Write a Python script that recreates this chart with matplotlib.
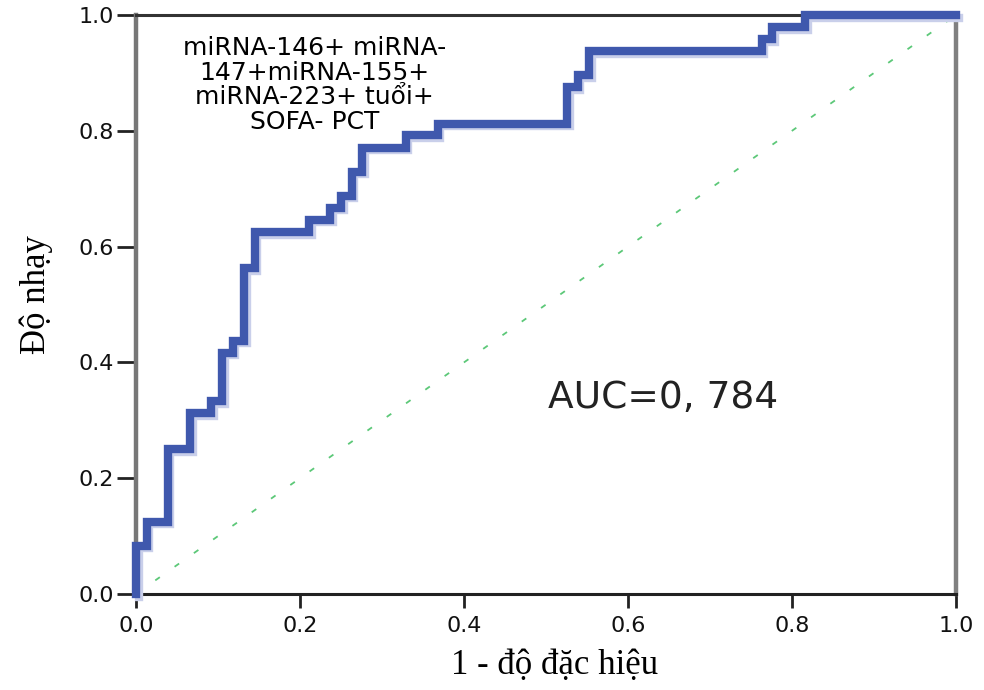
import matplotlib
matplotlib.use("Agg")
import matplotlib.pyplot as plt
import matplotlib.transforms as mtransforms

# ROC step points (1 - specificity, sensitivity), steps-pre
fpr = [0.0, 0.013, 0.039, 0.066, 0.092, 0.105, 0.118, 0.132, 0.145, 0.211,
       0.237, 0.250, 0.263, 0.276, 0.329, 0.368, 0.526, 0.539, 0.553, 0.763,
       0.776, 0.816, 1.0]
tpr = [0.0, 0.083, 0.125, 0.250, 0.3125, 0.333, 0.417, 0.4375, 0.5625, 0.625,
       0.646, 0.667, 0.6875, 0.729, 0.771, 0.792, 0.8125, 0.875, 0.896, 0.9375,
       0.958, 0.979, 1.0]
ref_x = [0.0, 1.0]
ref_y = [0.0, 1.0]
ticks = [0.0, 0.2, 0.4, 0.6, 0.8, 1.0]
tick_labels = ["0.0", "0.2", "0.4", "0.6", "0.8", "1.0"]
model_label = "miRNA-146+ miRNA-\n147+miRNA-155+\nmiRNA-223+ tuổi+\nSOFA- PCT"
auc_label = "AUC=0, 784"
xlabel = "1 - độ đặc hiệu"
ylabel = "Độ nhạy"

plt.rcParams['lines.scale_dashes'] = False
fig = plt.figure(figsize=(9.84, 6.90), dpi=100)
ax = fig.add_axes([136/984, 1 - 594/690, 820/984, 579/690])
ax.set_xlim(0, 1)
ax.set_ylim(0, 1)

# reference diagonal
ax.plot(ref_x, ref_y, color="#5cc878", lw=1.3, dashes=(4, 13), zorder=2)

# light shadow of the curve
shadow = mtransforms.offset_copy(ax.transData, fig=fig, x=2.5, y=-2.5, units='dots')
ax.plot(fpr, tpr, drawstyle='steps-pre', color="#c9cfea", lw=6.0,
        transform=shadow, solid_joinstyle='miter', zorder=3, clip_on=False)
ax.plot(fpr, tpr, drawstyle='steps-pre', color="#3f58ad", lw=6.0,
        solid_joinstyle='miter', zorder=4, clip_on=False)

# spines
ax.spines['left'].set_color('#777777')
ax.spines['left'].set_linewidth(3.2)
ax.spines['right'].set_color('#808080')
ax.spines['right'].set_linewidth(3.2)
ax.spines['top'].set_color('#333333')
ax.spines['top'].set_linewidth(2.2)
ax.spines['bottom'].set_color('#222222')
ax.spines['bottom'].set_linewidth(2.2)
for s in ax.spines.values():
    s.set_zorder(2.5)

ax.set_xticks(ticks)
ax.set_xticklabels(tick_labels)
ax.set_yticks(ticks)
ax.set_yticklabels(tick_labels)
ax.tick_params(axis='x', direction='out', length=10, width=2.0,
               color='#222222', labelsize=16, labelcolor='#111111', pad=6)
ax.tick_params(axis='y', direction='out', length=14, width=2.0,
               color='#222222', labelsize=16, labelcolor='#111111', pad=2)
for lab in ax.get_xticklabels() + ax.get_yticklabels():
    lab.set_family('DejaVu Sans')

ax.text(0.218, 0.963, model_label, ha='center', va='top', fontsize=18,
        family='DejaVu Sans', color='black', linespacing=1.02, zorder=5)
ax.text(0.643, 0.339, auc_label, ha='center', va='center', fontsize=27,
        family='DejaVu Sans', color='#222222', zorder=5)

fig.text(555/984, 1 - 665/690, xlabel, ha='center', va='center',
         fontsize=25, family='Liberation Serif', color='black')
fig.text(36/984, 1 - 295/690, ylabel, ha='center', va='center', rotation=90,
         fontsize=25, family='Liberation Serif', color='black')

fig.savefig("out.png", dpi=100)
